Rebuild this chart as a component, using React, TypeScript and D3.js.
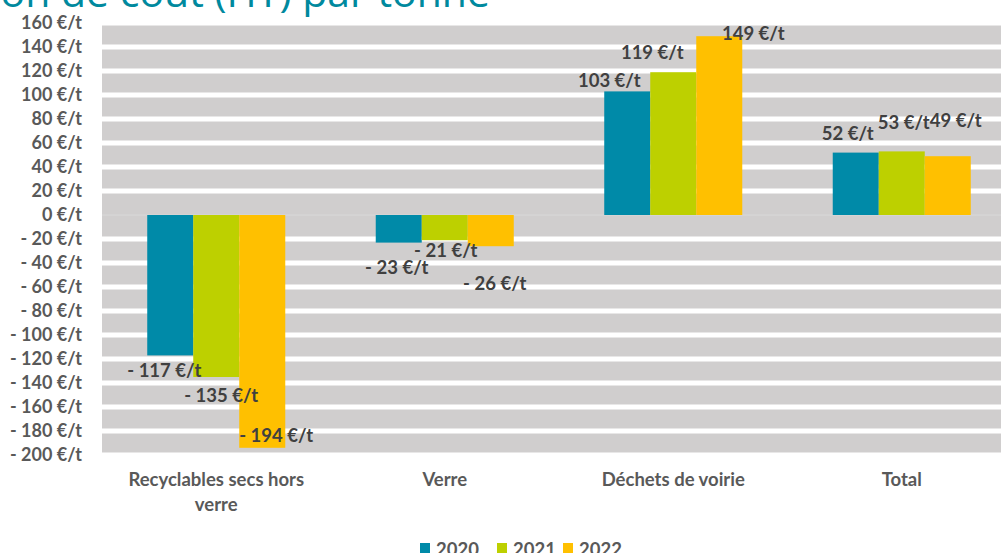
import React, { useEffect, useRef } from 'react';
import * as d3 from 'd3';

// categories and series
const categories = ['Recyclables secs hors\nverre', 'Verre', 'Déchets de voirie', 'Total'];
const years = ['2020', '2021', '2022'];
const values2020 = [-117, -23, 103, 52];
const values2021 = [-135, -21, 119, 53];
const values2022 = [-194, -26, 149, 49];
const yTicks = [160, 140, 120, 100, 80, 60, 40, 20, 0, -20, -40, -60, -80, -100, -120, -140, -160, -180, -200];

const colors = ['#008AA8', '#BDD000', '#FFC000'];
const textColor = '#595959';
const font = 'Lato, "Open Sans", sans-serif';

// hand-placed data label nudges (dx from bar centre, dy from bar end), as in the source deck
const labelNudge: [number, number][][] = [
  [[-6, 15], [5, 19], [14, -12]],
  [[-2, 25], [1, 10], [4, 37]],
  [[-18, -11], [-21, -20], [34, -3]],
  [[-8, -19], [2, -29], [8, -36]],
];

const fmt = (v: number) => (v < 0 ? `- ${-v} €/t` : `${v} €/t`);

function App() {
  const svgRef = useRef<SVGSVGElement>(null);

  useEffect(() => {
    const svg = d3.select(svgRef.current);
    svg.selectAll('*').remove();
    const width = 1001;
    const series = [values2020, values2021, values2022];

    const x0 = d3.scaleBand<number>().domain(d3.range(categories.length)).range([102, 1016]).paddingInner(0.396).paddingOuter(0.198);
    const x1 = d3.scaleBand<number>().domain(d3.range(years.length)).range([0, x0.bandwidth()]);
    const y = d3.scaleLinear().domain([-200, 160]).range([455, 23]);

    // title (clipped at top of slide)
    svg
      .append('text')
      .attr('x', 490)
      .attr('y', 7)
      .attr('text-anchor', 'end')
      .attr('font-family', '"Open Sans", sans-serif')
      .attr('font-size', 41)
      .attr('fill', '#00899E')
      .text('Évolution de coût (HT) par tonne');

    // plot background + white gridlines
    svg
      .append('rect')
      .attr('x', 102)
      .attr('y', y(160))
      .attr('width', width - 102)
      .attr('height', y(-200) - y(160))
      .attr('fill', '#D0CECE');

    svg
      .append('g')
      .selectAll('line')
      .data(yTicks.filter((t) => t !== 0))
      .join('line')
      .attr('x1', 102)
      .attr('x2', width)
      .attr('y1', (d) => y(d))
      .attr('y2', (d) => y(d))
      .attr('stroke', '#fff')
      .attr('stroke-width', 5);

    svg
      .append('line')
      .attr('x1', 102)
      .attr('x2', width)
      .attr('y1', y(0))
      .attr('y2', y(0))
      .attr('stroke', '#D9D9D9')
      .attr('stroke-width', 1);

    // y tick labels
    svg
      .append('g')
      .selectAll('text')
      .data(yTicks)
      .join('text')
      .attr('x', 82)
      .attr('y', (d) => y(d))
      .attr('dy', '0.35em')
      .attr('text-anchor', 'end')
      .attr('font-family', font)
      .attr('font-weight', 'bold')
      .attr('font-size', 18)
      .attr('fill', textColor)
      .text((d) => fmt(d));

    // bars
    const groups = svg
      .append('g')
      .selectAll('g')
      .data(categories.map((c, i) => i))
      .join('g')
      .attr('transform', (i) => `translate(${x0(i)},0)`);

    groups
      .selectAll('rect')
      .data((i) => series.map((s, j) => ({ j, v: s[i] })))
      .join('rect')
      .attr('x', (d) => x1(d.j)!)
      .attr('width', x1.bandwidth())
      .attr('y', (d) => Math.min(y(d.v), y(0)))
      .attr('height', (d) => Math.abs(y(d.v) - y(0)))
      .attr('fill', (d) => colors[d.j]);

    // data labels
    groups
      .selectAll('text')
      .data((i) => series.map((s, j) => ({ i, j, v: s[i] })))
      .join('text')
      .attr('x', (d) => x1(d.j)! + x1.bandwidth() / 2 + labelNudge[d.i][d.j][0])
      .attr('y', (d) => y(d.v) + labelNudge[d.i][d.j][1])
      .attr('dy', '0.35em')
      .attr('text-anchor', 'middle')
      .attr('font-family', font)
      .attr('font-weight', 'bold')
      .attr('font-size', 18.5)
      .attr('fill', '#404040')
      .text((d) => fmt(d.v));

    // category labels
    const cat = svg
      .append('g')
      .selectAll('text')
      .data(categories.map((c, i) => ({ c, i })))
      .join('text')
      .attr('x', (d) => x0(d.i)! + x0.bandwidth() / 2)
      .attr('y', 486)
      .attr('text-anchor', 'middle')
      .attr('font-family', font)
      .attr('font-weight', 'bold')
      .attr('font-size', 18.5)
      .attr('fill', textColor);
    cat
      .selectAll('tspan')
      .data((d) => d.c.split('\n'))
      .join('tspan')
      .attr('x', function () {
        return (this.parentNode as SVGTextElement).getAttribute('x');
      })
      .attr('dy', (d, k) => (k === 0 ? 0 : 25))
      .text((d) => d);

    // legend
    const legendX = [420, 497, 563];
    const leg = svg
      .append('g')
      .selectAll('g')
      .data(years)
      .join('g')
      .attr('transform', (d, k) => `translate(${legendX[k]},543)`);
    leg.append('rect').attr('width', 10).attr('height', 10).attr('fill', (d, k) => colors[k]);
    leg
      .append('text')
      .attr('x', 16)
      .attr('y', 13)
      .attr('font-family', font)
      .attr('font-weight', 'bold')
      .attr('font-size', 18.5)
      .attr('fill', textColor)
      .text((d) => d);
  }, []);

  return (
    <svg
      ref={svgRef}
      width={1001}
      height={553}
      style={{ position: 'absolute', left: 0, top: 0, background: '#fff' }}
    />
  );
}

export default App;
